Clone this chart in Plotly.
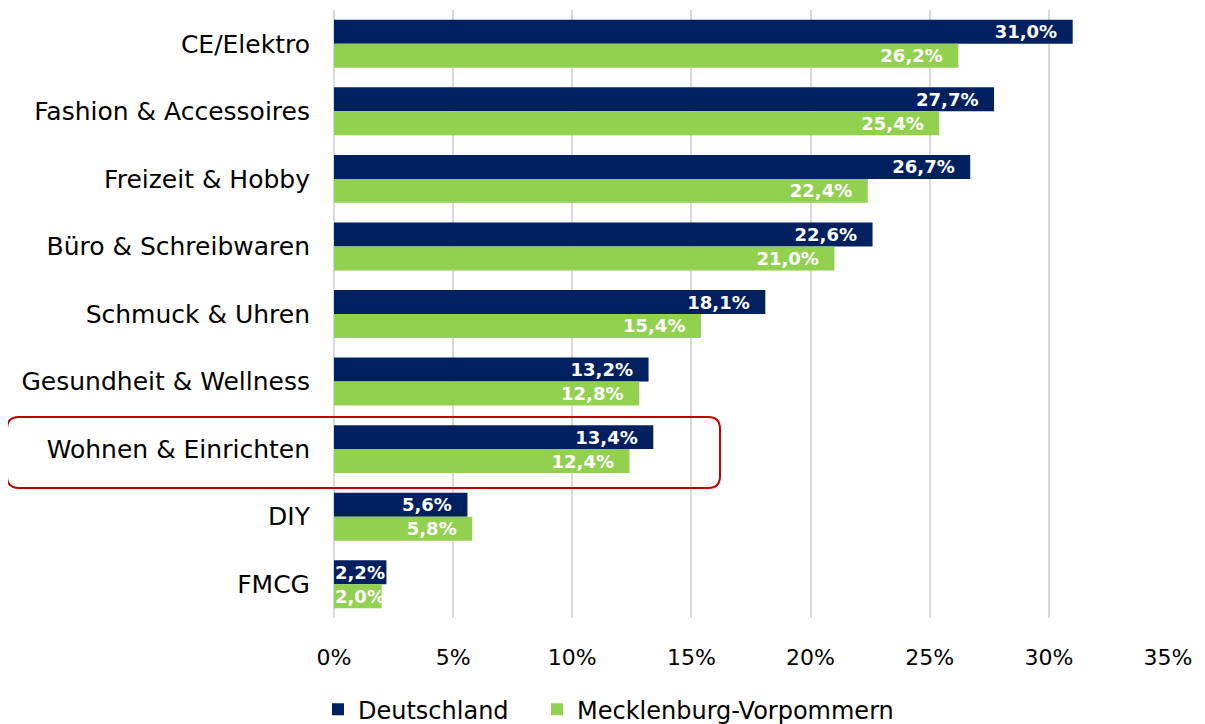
import plotly.graph_objects as go

categories = ["CE/Elektro", "Fashion & Accessoires", "Freizeit & Hobby", "Büro & Schreibwaren",
              "Schmuck & Uhren", "Gesundheit & Wellness", "Wohnen & Einrichten", "DIY", "FMCG"]
deutschland = [31.0, 27.7, 26.7, 22.6, 18.1, 13.2, 13.4, 5.6, 2.2]
mv = [26.2, 25.4, 22.4, 21.0, 15.4, 12.8, 12.4, 5.8, 2.0]
x_ticks = [0, 5, 10, 15, 20, 25, 30, 35]
x_tick_labels = ["0%", "5%", "10%", "15%", "20%", "25%", "30%", "35%"]

SMALL = 3.0  # labels of bars shorter than this start at the axis instead

def fmt(v):
    return f"{v:.1f}%".replace(".", ",")

def inside_labels(vals):
    return [fmt(v) + "\u00a0\u00a0" if v >= SMALL else "" for v in vals]

font_family = "DejaVu Sans, Liberation Sans, Arial, sans-serif"
label_font = dict(color="white", size=18, family=font_family, weight="bold")

fig = go.Figure()
fig.add_trace(go.Bar(y=categories, x=deutschland, orientation="h", name="Deutschland",
                     marker_color="#002060", marker_line_width=0,
                     text=inside_labels(deutschland), legend="legend",
                     textposition="inside", insidetextanchor="end", constraintext="none",
                     textfont=label_font))
fig.add_trace(go.Bar(y=categories, x=mv, orientation="h", name="Mecklenburg-Vorpommern",
                     marker_color="#92D050", marker_line_width=0,
                     text=inside_labels(mv), legend="legend2",
                     textposition="inside", insidetextanchor="end", constraintext="none",
                     textfont=label_font))

# page is offset by the 8px body margin of the html page
OFF = 8
W, H = 1205 - 2 * OFF, 724 - OFF
L, R, T, B = 334 - OFF, 1205 - 1168 - OFF, 10 - OFF, 106
pw, ph = W - L - R, H - T - B
bar_px = ph / len(categories) * (1 - 0.29) / 2

annotations = []
for cat, v in zip(categories, deutschland):
    if v < SMALL:
        annotations.append(dict(x=0, y=cat, xref="x", yref="y", text=fmt(v), showarrow=False,
                                xanchor="left", yanchor="middle", yshift=bar_px / 2,
                                xshift=-1, font=label_font))
for cat, v in zip(categories, mv):
    if v < SMALL:
        annotations.append(dict(x=0, y=cat, xref="x", yref="y", text=fmt(v), showarrow=False,
                                xanchor="left", yanchor="middle", yshift=-bar_px / 2,
                                xshift=-1, font=label_font))

def px2paper(x, y):
    # x, y given in page pixels
    return (x - OFF - L) / pw, (H - B - (y - OFF)) / ph

x0, y0 = px2paper(7, 417)
x1, y1 = px2paper(720, 488)
rx, ry = 12 / pw, 12 / ph
path = (f"M {x0+rx},{y0} L {x1-rx},{y0} Q {x1},{y0} {x1},{y0-ry} "
        f"L {x1},{y1+ry} Q {x1},{y1} {x1-rx},{y1} "
        f"L {x0+rx},{y1} Q {x0},{y1} {x0},{y1+ry} "
        f"L {x0},{y0-ry} Q {x0},{y0} {x0+rx},{y0} Z")

def legend_at(x_page):
    return dict(orientation="h", xref="container", yref="container", y=0.02,
                x=(x_page - OFF) / W, xanchor="left", yanchor="middle",
                font=dict(size=24), itemwidth=30, bgcolor="rgba(0,0,0,0)",
                visible=True)

fig.update_layout(
    width=W, height=H,
    margin=dict(l=L, r=R, t=T, b=B, autoexpand=False),
    barmode="group", bargap=0.29, bargroupgap=0,
    plot_bgcolor="white", paper_bgcolor="white",
    showlegend=True,
    font=dict(family=font_family, size=22, color="#000000"),
    xaxis=dict(range=[0, 35], tickmode="array", tickvals=x_ticks, ticktext=x_tick_labels,
               showgrid=True, gridcolor="#D9D9D9", gridwidth=1.5, zeroline=True,
               zerolinecolor="#D9D9D9", zerolinewidth=1.5, ticks="outside", ticklen=20,
               tickcolor="white", tickfont=dict(size=22), automargin=False),
    yaxis=dict(autorange="reversed", ticks="outside", ticklen=18, tickcolor="white",
               tickfont=dict(size=25), showgrid=False, automargin=False),
    legend=legend_at(318),
    legend2=legend_at(537),
    annotations=annotations,
    shapes=[dict(type="path", xref="paper", yref="paper", path=path,
                 line=dict(color="#C00000", width=2), fillcolor="rgba(0,0,0,0)")],
)

fig.write_html("out.html")
